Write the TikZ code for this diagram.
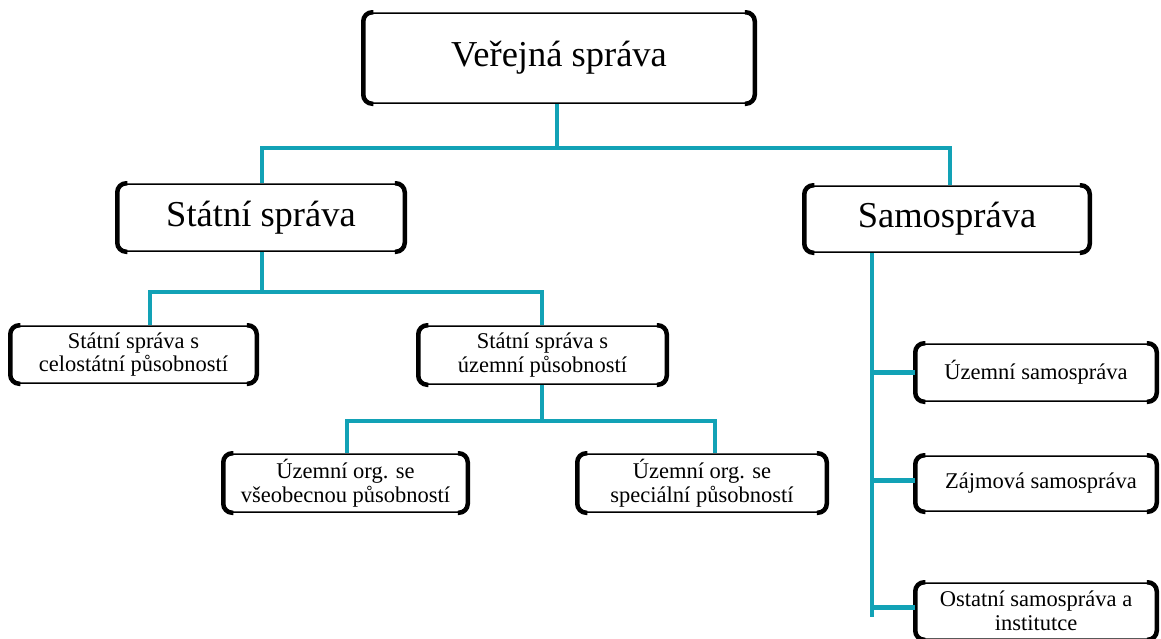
\documentclass[tikz,border=0pt]{standalone}
\usepackage{fontspec}
\setmainfont{Liberation Serif}
\definecolor{conncol}{HTML}{12A2B6}
\tikzset{
  box/.style={draw=black, line width=1.5pt, rounded corners=9pt, fill=white, align=center, inner sep=0pt},
  bigbox/.style={box, font=\fontsize{36.5}{40}\selectfont},
  smallbox/.style={box, font=\fontsize{22.5}{23.5}\selectfont},
  conn/.style={draw=conncol, line width=3.5pt},
  branch/.style={draw=conncol, line width=5pt},
  side/.style={draw=black, line width=4.5pt, rounded corners=9pt},
}
\newcommand\thicksides[1]{%
  \draw[side] ([xshift=10pt]#1.north west) -- (#1.north west) -- (#1.south west) -- ([xshift=10pt]#1.south west);
  \draw[side] ([xshift=-10pt]#1.north east) -- (#1.north east) -- (#1.south east) -- ([xshift=-10pt]#1.south east);
}
\begin{document}
\begin{tikzpicture}[x=1pt, y=-1pt]
\useasboundingbox (0,0) rectangle (1161,638);
% nodes
\node[bigbox, minimum width=390pt, minimum height=90pt] (ver) at (559,58) {Veřejná správa};
\node[bigbox, minimum width=286pt, minimum height=67pt] (stat) at (261,217.5) {Státní správa};
\node[bigbox, minimum width=284pt, minimum height=66pt] (samo) at (947,219) {Samospráva};
\node[smallbox, minimum width=245pt, minimum height=57pt] (cel) at (133.5,354.5) {Státní správa s\\celostátní působností};
\node[smallbox, minimum width=247pt, minimum height=58pt] (uz) at (542.5,355) {Státní správa s\\územní působností};
\node[smallbox, minimum width=243pt, minimum height=58pt] (vse) at (345.5,483) {Územní org. se\\všeobecnou působností};
\node[smallbox, minimum width=248pt, minimum height=58pt] (spec) at (702,483) {Územní org. se\\speciální působností};
\node[smallbox, minimum width=240pt, minimum height=57pt] (uzs) at (1036,372.5) {Územní samospráva};
\node[smallbox, minimum width=240pt, minimum height=55pt] (zaj) at (1036,483.5) {\hspace*{10pt}Zájmová samospráva};
\node[smallbox, minimum width=240pt, minimum height=56pt] (ost) at (1036,611) {Ostatní samospráva a\\institutce};
\foreach \n in {ver,stat,samo,cel,uz,vse,spec,uzs,zaj,ost}{\thicksides{\n}}
% connectors
\coordinate (j1) at (557,148);
\coordinate (j2) at (262,292);
\coordinate (j3) at (542,421);
\coordinate (trunktop) at (872,0 |- samo.south);
\coordinate (trunkend) at (872,617);
\draw[conn] (557,0 |- ver.south) -- (j1);
\draw[conn] (j1) -| (262,0 |- stat.north);
\draw[conn] (j1) -| (950,0 |- samo.north);
\draw[conn] (262,0 |- stat.south) -- (j2);
\draw[conn] (j2) -| (150,0 |- cel.north);
\draw[conn] (j2) -| (542,0 |- uz.north);
\draw[conn] (542,0 |- uz.south) -- (j3);
\draw[conn] (j3) -| (347,0 |- vse.north);
\draw[conn] (j3) -| (715,0 |- spec.north);
\draw[conn] (trunktop) -- (trunkend);
\draw[branch] (872,0 |- uzs.west) -- (uzs.west);
\draw[branch] (872,480) -- (zaj.west |- 0,480);
\draw[branch] (872,607) -- (ost.west |- 0,607);
\end{tikzpicture}
\end{document}
